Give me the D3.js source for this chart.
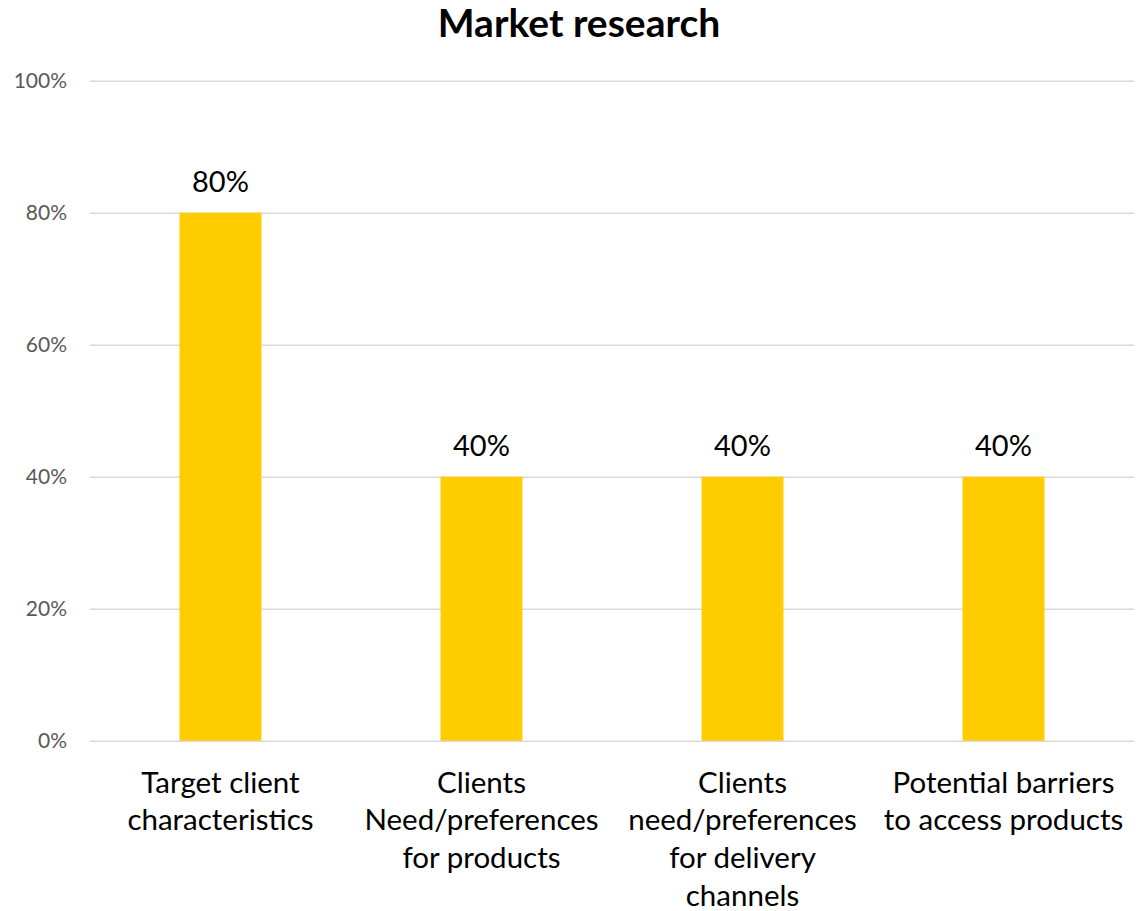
<!DOCTYPE html>
<html>
<head>
<meta charset="utf-8">
<script src="https://cdn.jsdelivr.net/npm/d3@7"></script>
<style>
  html, body { margin: 0; padding: 0; background: #ffffff; }
  svg { display: block; }
  text { font-family: Lato, "Open Sans", sans-serif; }
</style>
</head>
<body>
<svg id="chart" width="1138" height="911"></svg>
<script>
// Chart data
const title = "Market research";
const categories = [
  "Target client|characteristics",
  "Clients|Need/preferences|for products",
  "Clients|need/preferences|for delivery|channels",
  "Potential barriers|to access products"
];
const values = [0.80, 0.40, 0.40, 0.40];
const yTicks = [0, 0.2, 0.4, 0.6, 0.8, 1.0];

const svg = d3.select("#chart");
const margin = { top: 80.7, right: 4, bottom: 170.3, left: 90 };
const width = 1138 - margin.left - margin.right;
const height = 911 - margin.top - margin.bottom;

const g = svg.append("g").attr("transform", `translate(${margin.left},${margin.top})`);

const x = d3.scaleBand()
  .domain(categories)
  .range([0, width])
  .paddingInner(0.686)
  .paddingOuter(0.343);

const y = d3.scaleLinear().domain([0, 1]).range([height, 0]);

const pct = d3.format(".0%");

// Title
svg.append("text")
  .attr("x", 579)
  .attr("y", 37)
  .attr("text-anchor", "middle")
  .style("font-size", "39px")
  .style("font-weight", "700")
  .attr("fill", "#000")
  .text(title);

// Horizontal gridlines with percentage ticks
const yAxis = d3.axisLeft(y).tickValues(yTicks).tickFormat(pct).tickSize(-width).tickPadding(23);
const yg = g.append("g").call(yAxis);
yg.select(".domain").remove();
yg.selectAll(".tick line").attr("stroke", "#d9d9d9").attr("stroke-width", 1.5);
yg.selectAll(".tick text")
  .attr("fill", "#595959")
  .style("font-size", "21px")
  .style("font-family", "Lato, sans-serif");

// Bars
g.selectAll("rect.bar")
  .data(values)
  .join("rect")
  .attr("class", "bar")
  .attr("x", (d, i) => x(categories[i]))
  .attr("y", d => y(d))
  .attr("width", x.bandwidth())
  .attr("height", d => y(0) - y(d))
  .attr("fill", "#ffcc00");

// Value labels
g.selectAll("text.value")
  .data(values)
  .join("text")
  .attr("class", "value")
  .attr("x", (d, i) => x(categories[i]) + x.bandwidth() / 2)
  .attr("y", d => y(d) - 21)
  .attr("text-anchor", "middle")
  .style("font-size", "29px")
  .attr("fill", "#000")
  .text(d => pct(d));

// Category labels (wrapped on '|')
const xg = g.append("g").attr("transform", `translate(0,${height})`);
categories.forEach(c => {
  const t = xg.append("text")
    .attr("x", x(c) + x.bandwidth() / 2)
    .attr("y", 52)
    .attr("text-anchor", "middle")
    .style("font-size", "29.5px")
    .attr("fill", "#000");
  c.split("|").forEach((line, k) => {
    t.append("tspan")
      .attr("x", x(c) + x.bandwidth() / 2)
      .attr("dy", k === 0 ? 0 : 37.8)
      .text(line);
  });
});
</script>
</body>
</html>
